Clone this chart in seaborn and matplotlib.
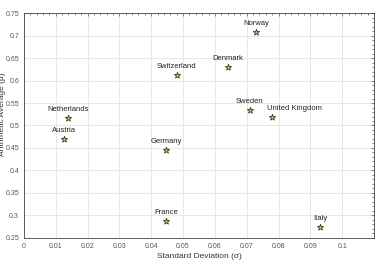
import matplotlib
matplotlib.use("Agg")
import matplotlib.pyplot as plt
import seaborn as sns
import pandas as pd
from matplotlib.ticker import MultipleLocator, AutoMinorLocator, FuncFormatter

countries = ["Netherlands", "Switzerland", "Norway", "Denmark", "Sweden",
             "United Kingdom", "Austria", "Germany", "France", "Italy"]
std_dev = [0.0138, 0.048, 0.073, 0.064, 0.0709, 0.078, 0.0126, 0.0447, 0.0447, 0.093]
average = [0.517, 0.612, 0.708, 0.630, 0.534, 0.519, 0.470, 0.446, 0.288, 0.274]

df = pd.DataFrame({"country": countries, "std": std_dev, "avg": average})

sns.set_style("whitegrid")
plt.rcParams["font.family"] = ["Liberation Sans", "DejaVu Sans"]

fig = plt.figure(figsize=(3.79, 2.62), dpi=100)
ax = fig.add_axes([0.063, 0.092, 0.924, 0.858])

sns.scatterplot(
    data=df,
    x="std",
    y="avg",
    marker="*",
    s=22,
    color="#d8d860",
    edgecolor="#3a3a20",
    linewidth=0.6,
    ax=ax,
    zorder=3
)

# label nudges (points), UK moved right so it clears Sweden
nudge = {"United Kingdom": (16, 3.5)}

for name, x, y in zip(countries, std_dev, average):
    ax.annotate(name, (x, y), xytext=nudge.get(name, (0, 3.5)),
                textcoords="offset points",
                ha="center", va="bottom", fontsize=5.5, color="#222222")

ax.set_xlim(0, 0.11)
ax.set_ylim(0.25, 0.75)
ax.set_xticks([i / 100 for i in range(11)])
ax.yaxis.set_major_locator(MultipleLocator(0.05))
ax.xaxis.set_minor_locator(AutoMinorLocator(5))
ax.yaxis.set_minor_locator(AutoMinorLocator(5))
fmt = FuncFormatter(lambda v, p: f"{v:.2f}".rstrip("0").rstrip(".") if abs(v) > 1e-9 else "0")
ax.xaxis.set_major_formatter(fmt)
ax.yaxis.set_major_formatter(fmt)

ax.grid(True, which="major", color="#e3e3e3", linewidth=0.6)
ax.tick_params(which="both", direction="in", top=True, right=True,
               labelsize=5, colors="#555555", length=2.5, width=0.5)
ax.tick_params(which="minor", length=1.5)
for s in ax.spines.values():
    s.set_color("#444444")
    s.set_linewidth(0.6)

ax.set_xlabel("Standard Deviation (σ)", fontsize=6, color="#333333", labelpad=2)
ax.set_ylabel("Arithmetic Average (μ)", fontsize=6, color="#333333")
ax.yaxis.set_label_coords(-0.052, 0.55)

plt.savefig("out.png", dpi=100)
